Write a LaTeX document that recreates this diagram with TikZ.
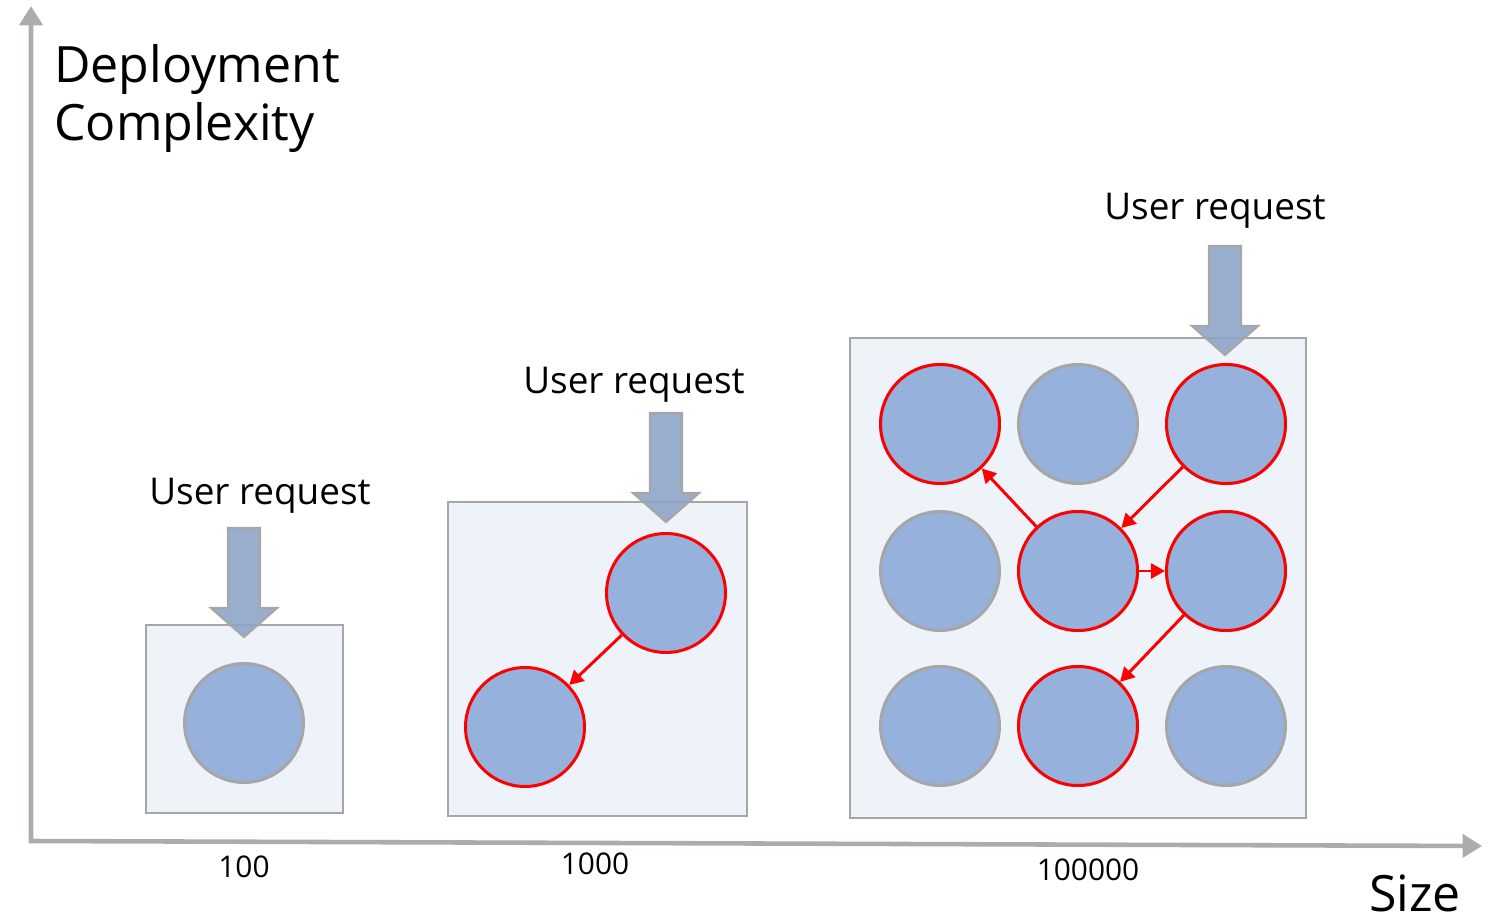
\documentclass[tikz,border=0pt]{standalone}
\usepackage{fontspec}
\setmainfont{Open Sans}
\usetikzlibrary{arrows.meta}
\definecolor{mnode}{RGB}{150, 177, 219}
\definecolor{mbox}{RGB}{238, 243, 250}
\definecolor{mframe}{RGB}{166, 166, 166}
\definecolor{maxis}{RGB}{175, 171, 171}
\definecolor{mreq}{RGB}{142, 165, 200}
\tikzset{
  svc/.style = {circle, fill = mnode, draw = mframe, line width = 1.7pt,
                minimum size = 2.38cm, inner sep = 0},
  hot/.style = {svc, draw = red},
  cluster/.style = {fill = mbox, draw = mframe, line width = 1.6pt},
  call/.style = {-{Triangle[length = 8pt, width = 8.5pt]}, red, line width = 1.7pt},
  axis/.style = {{Triangle[length = 11pt, width = 13pt]}-{Triangle[length = 11pt, width = 13pt]},
                 maxis, line width = 2.6pt},
  reqtext/.style = {font = \fontsize{21}{25}\selectfont},
  ticktext/.style = {font = \fontsize{17}{20}\selectfont},
  axistext/.style = {font = \fontsize{28.5}{33}\selectfont, align = left},
  request/.pic = {
    \draw [mframe, fill = mreq, fill opacity = 0.9, line width = 1.2pt]
      (-16, -109) -- (16, -109) -- (16, -29) -- (33, -29) -- (0, 0)
      -- (-33, -29) -- (-16, -29) -- cycle;
  }
}

\begin{document}
\begin{tikzpicture}[x = 0.02cm, y = -0.02cm]
    \useasboundingbox (0, 0) rectangle (1498, 922);

    % axes
    \coordinate (ytop) at (31, 6);
    \coordinate (origin) at (31, 841);
    \coordinate (xend) at (1482, 846);
    \draw [axis] (ytop) -- (origin) -- (xend);
    \node [axistext, anchor = north west] (ylab) at (48, 38) {Deployment\\Complexity};
    \node [axistext] (xlab) at (1415, 893) {Size};

    % clusters
    \draw [cluster] (146, 625) rectangle (343, 813);
    \draw [cluster] (448, 502) rectangle (747, 816);
    \draw [cluster] (850, 338) rectangle (1306, 818);

    % 100
    \node [svc] (a) at (244, 723) {};

    % 1000
    \node [hot] (b1) at (666, 593) {};
    \node [hot] (b2) at (525, 727) {};
    \draw [call] (b1) -- (b2);

    % 100000
    \foreach \r/\y in {1/424, 2/571, 3/726} {
      \foreach \c/\x in {1/940, 2/1078, 3/1226} {
        \node [svc] (c\r\c) at (\x, \y) {};
      }
    }
    \foreach \n in {c11, c13, c22, c23, c32} {
      \node [hot] at (\n) {};
    }
    \draw [call] (c22) -- (c11);
    \draw [call] (c13) -- (c22);
    \draw [call] (c22) -- (c23);
    \draw [call] (c23) -- (c32);

    % incoming requests
    \pic at (244, 637) {request};
    \pic at (666, 522) {request};
    \pic at (1225, 355) {request};
    \node [reqtext] (r1) at (260, 496) {User request};
    \node [reqtext] (r2) at (634, 385) {User request};
    \node [reqtext] (r3) at (1215, 211) {User request};

    % sizes
    \node [ticktext] (t1) at (244, 867) {100};
    \node [ticktext] (t2) at (595, 864) {1000};
    \node [ticktext] (t3) at (1088, 870) {100000};
  \end{tikzpicture}
\end{document}
